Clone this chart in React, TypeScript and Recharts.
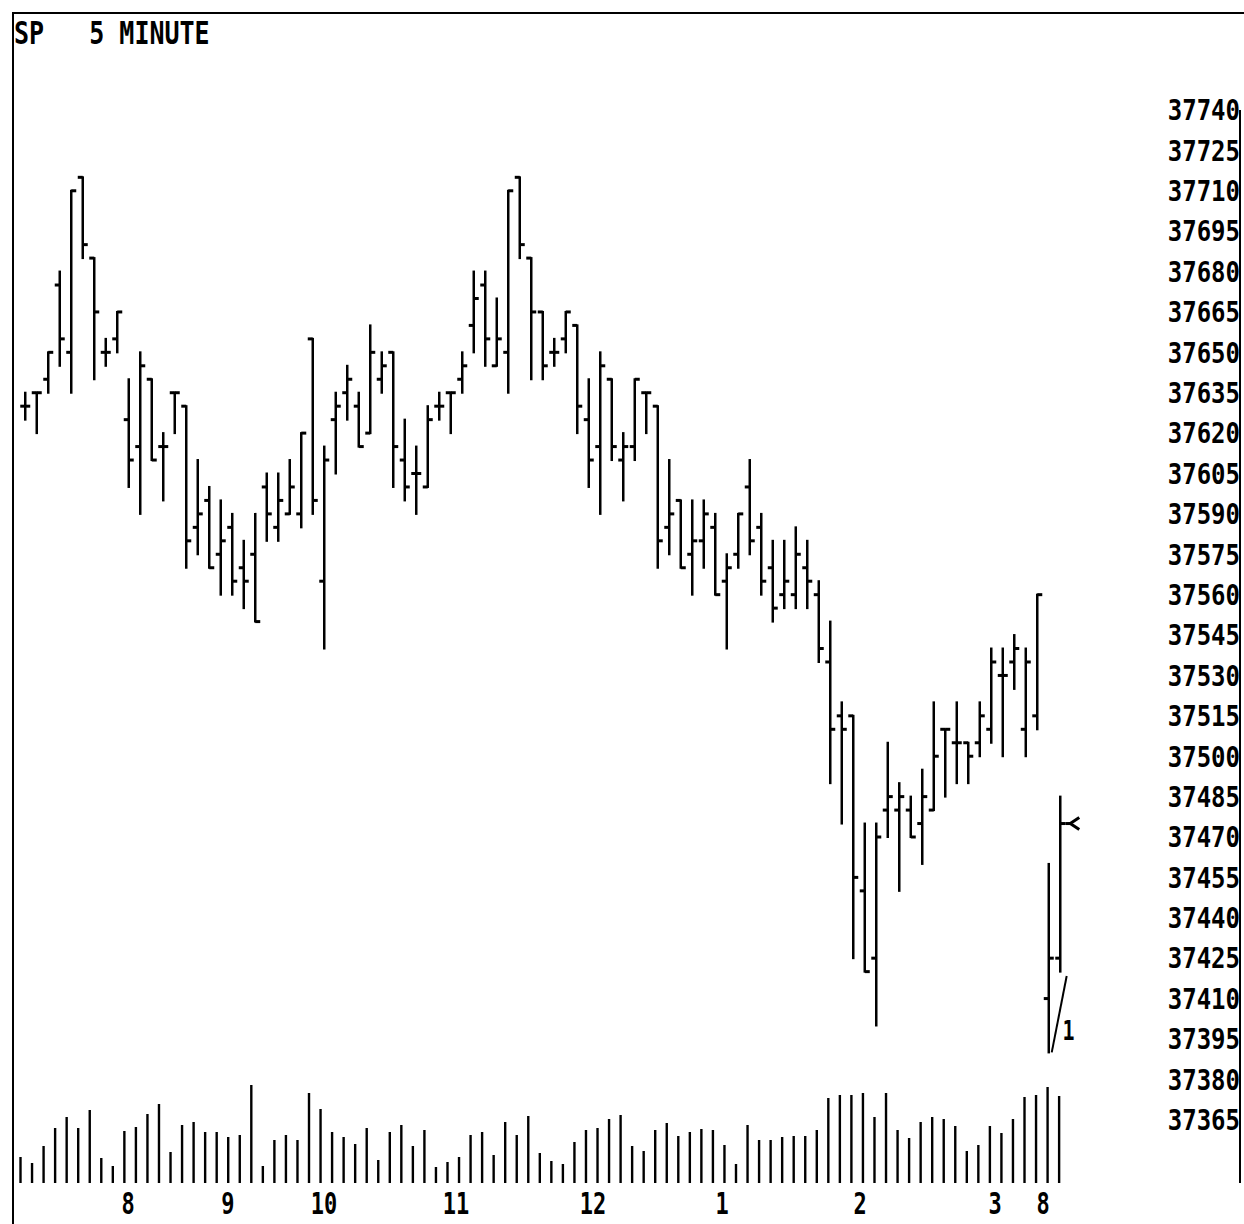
import React from 'react';
import { ComposedChart, Bar, XAxis, YAxis, ReferenceLine, ReferenceDot } from 'recharts';

const opens = [
  37630, 37635, 37640, 37675, 37650, 37715, 37685, 37650, 37655, 37625,
  37615, 37640, 37615, 37635, 37630, 37585, 37595, 37575, 37585, 37570,
  37575, 37600, 37585, 37590, 37590, 37655, 37565, 37625, 37635, 37630,
  37620, 37640, 37650, 37610, 37605, 37600, 37630, 37635, 37640, 37660,
  37675, 37645, 37650, 37715, 37685, 37665, 37650, 37655, 37660, 37625,
  37615, 37640, 37610, 37615, 37635, 37630, 37585, 37595, 37575, 37580,
  37585, 37565, 37575, 37600, 37585, 37570, 37560, 37560, 37570, 37560,
  37535, 37515, 37515, 37450, 37425, 37480, 37480, 37480, 37475, 37480,
  37510, 37505, 37505, 37505, 37510, 37530, 37535, 37510, 37515, 37410, 37425,
];
const highs = [
  37635, 37635, 37650, 37680, 37710, 37715, 37685, 37655, 37665, 37640,
  37650, 37640, 37620, 37635, 37630, 37610, 37600, 37595, 37590, 37580,
  37590, 37605, 37605, 37610, 37620, 37655, 37615, 37635, 37645, 37635,
  37660, 37650, 37650, 37625, 37615, 37630, 37635, 37635, 37650, 37680,
  37680, 37670, 37710, 37715, 37685, 37665, 37655, 37665, 37660, 37640,
  37650, 37640, 37620, 37640, 37635, 37630, 37610, 37595, 37595, 37595,
  37590, 37575, 37590, 37610, 37590, 37580, 37580, 37585, 37580, 37565,
  37550, 37520, 37515, 37475, 37475, 37505, 37490, 37485, 37495, 37520,
  37510, 37520, 37505, 37520, 37540, 37540, 37545, 37540, 37560, 37460, 37485,
];
const lows = [
  37625, 37620, 37635, 37645, 37635, 37685, 37640, 37645, 37650, 37600,
  37590, 37610, 37595, 37620, 37570, 37575, 37570, 37560, 37560, 37555,
  37550, 37580, 37580, 37590, 37585, 37590, 37540, 37605, 37625, 37615,
  37620, 37635, 37600, 37595, 37590, 37600, 37625, 37620, 37635, 37650,
  37645, 37645, 37635, 37685, 37640, 37640, 37645, 37650, 37620, 37600,
  37590, 37610, 37595, 37610, 37620, 37570, 37575, 37570, 37560, 37570,
  37560, 37540, 37570, 37575, 37560, 37550, 37555, 37555, 37555, 37535,
  37490, 37475, 37425, 37420, 37400, 37470, 37450, 37470, 37460, 37480,
  37485, 37490, 37490, 37500, 37505, 37500, 37525, 37500, 37510, 37390, 37420,
];
const closes = [
  37630, 37635, 37650, 37655, 37710, 37690, 37665, 37650, 37665, 37610,
  37645, 37610, 37615, 37635, 37580, 37590, 37570, 37580, 37565, 37565,
  37550, 37590, 37595, 37600, 37620, 37595, 37610, 37630, 37640, 37615,
  37650, 37645, 37615, 37600, 37605, 37625, 37630, 37635, 37645, 37670,
  37655, 37655, 37710, 37690, 37665, 37645, 37650, 37665, 37630, 37610,
  37645, 37615, 37615, 37640, 37635, 37580, 37590, 37570, 37580, 37590,
  37560, 37570, 37590, 37580, 37565, 37555, 37565, 37575, 37565, 37540,
  37510, 37510, 37455, 37420, 37470, 37485, 37485, 37470, 37485, 37500,
  37510, 37505, 37500, 37515, 37535, 37530, 37540, 37535, 37560, 37425, 37475,
];
const volumes = [
  26, 20, 37, 55, 66, 55, 73, 25, 17, 52,
  56, 69, 79, 31, 58, 61, 51, 51, 46, 48,
  98, 17, 43, 48, 43, 90, 74, 51, 46, 39,
  55, 23, 51, 58, 37, 53, 16, 21, 26, 48,
  51, 28, 61, 48, 67, 30, 22, 19, 41, 53,
  55, 64, 68, 37, 32, 53, 60, 47, 51, 54,
  53, 38, 19, 58, 43, 43, 46, 47, 47, 53,
  85, 88, 88, 90, 66, 90, 53, 45, 61, 66,
  64, 57, 32, 38, 57, 50, 64, 86, 88, 96, 87,
];
const hourTickPos = [8.96, 17.65, 26.0, 37.48, 49.39, 60.61, 72.61, 84.35, 88.52];
const hourTickLabels = ['8', '9', '10', '11', '12', '1', '2', '3', '8'];
const priceTicks = [
  37365, 37380, 37395, 37410, 37425, 37440, 37455, 37470, 37485, 37500, 37515, 37530, 37545,
  37560, 37575, 37590, 37605, 37620, 37635, 37650, 37665, 37680, 37695, 37710, 37725, 37740,
];
const arrowBar = 90;
const slashSegment = [
  { x: 89.28, y: 37390 },
  { x: 90.58, y: 37418.4 },
];
const noteLabel = { x: 90.75, y: 37398, text: '1' };

const data = opens.map((o, i) => ({
  i,
  open: o,
  high: highs[i],
  low: lows[i],
  close: closes[i],
  range: [lows[i], highs[i]],
  vol: volumes[i],
}));

const FONT = '"DejaVu Sans Mono", "Liberation Mono", monospace';

const OhlcShape = (props: any) => {
  const { x, y, width, height, payload, index } = props;
  if (x == null || y == null) return null;
  const cx = x + width / 2;
  const top = Math.min(y, y + height);
  const h = Math.abs(height);
  const { high, low, open, close } = payload;
  const py = (p: number) => (high === low ? top : top + ((high - p) / (high - low)) * h);
  const yo = py(open);
  const yc = py(close);
  return (
    <g>
      <line x1={cx} x2={cx} y1={top - 1} y2={top + h + 1} stroke="#000" strokeWidth={2.5} />
      <line x1={cx - 5} x2={cx} y1={yo} y2={yo} stroke="#000" strokeWidth={3} />
      <line x1={cx} x2={cx + 5} y1={yc} y2={yc} stroke="#000" strokeWidth={3} />
      {index === arrowBar && (
        <g>
          <line x1={cx + 5} x2={cx + 10} y1={yc} y2={yc} stroke="#000" strokeWidth={3} />
          <path
            d={`M ${cx + 19} ${yc - 6} L ${cx + 10} ${yc} L ${cx + 19} ${yc + 6}`}
            stroke="#000"
            strokeWidth={3}
            fill="none"
          />
        </g>
      )}
    </g>
  );
};

const VolShape = (props: any) => {
  const { x, y, width, height } = props;
  if (x == null || y == null) return null;
  const cx = x + width / 2;
  const top = Math.min(y, y + height);
  const h = Math.abs(height);
  return <line x1={cx} x2={cx} y1={top} y2={top + h} stroke="#000" strokeWidth={2.4} />;
};

const PriceTick = (props: any) => {
  const { x, y, payload } = props;
  return (
    <g transform={`translate(${x - 8},${y}) scale(1,1.2)`}>
      <text
        x={0}
        y={0}
        textAnchor="end"
        dominantBaseline="central"
        fontFamily={FONT}
        fontWeight="bold"
        fontSize={24}
        fill="#000"
      >
        {payload.value}
      </text>
    </g>
  );
};

const HourTick = (props: any) => {
  const { x, y, payload } = props;
  const idx = hourTickPos.indexOf(payload.value);
  const label = idx >= 0 ? hourTickLabels[idx] : '';
  return (
    <g transform={`translate(${x},${y + 13}) scale(1,1.35)`}>
      <text
        x={0}
        y={0}
        textAnchor="middle"
        dominantBaseline="central"
        fontFamily={FONT}
        fontWeight="bold"
        fontSize={22}
        fill="#000"
      >
        {label}
      </text>
    </g>
  );
};

export default function App() {
  return (
    <div style={{ position: 'absolute', left: 0, top: 0, width: 1244, height: 1224, background: '#fff' }}>
      <div
        style={{
          position: 'absolute',
          left: 12,
          top: 12,
          width: 1232,
          height: 1212,
          borderTop: '2px solid #000',
          borderLeft: '2px solid #000',
          boxSizing: 'border-box',
        }}
      />
      <div
        style={{
          position: 'absolute',
          left: 14,
          top: 16,
          fontFamily: FONT,
          fontWeight: 'bold',
          fontSize: 25,
          lineHeight: '28px',
          whiteSpace: 'pre',
          transform: 'scale(1,1.25)',
          transformOrigin: 'left top',
          color: '#000',
        }}
      >
        {'SP   5 MINUTE'}
      </div>
      <ComposedChart
        width={1244}
        height={1224}
        data={data}
        margin={{ top: 110, right: 0, bottom: 11, left: 12 }}
        style={{ position: 'absolute', left: 0, top: 0 }}
      >
        <XAxis
          xAxisId="p"
          dataKey="i"
          type="number"
          domain={[-1.13, 105.65]}
          allowDataOverflow
          ticks={hourTickPos}
          interval={0}
          tick={<HourTick />}
          axisLine={false}
          tickLine={false}
          height={30}
        />
        <XAxis xAxisId="v" dataKey="i" type="number" domain={[-0.76, 105.65]} allowDataOverflow hide />
        <YAxis
          yAxisId="p"
          orientation="right"
          type="number"
          domain={[37341.5, 37740]}
          allowDataOverflow
          ticks={priceTicks}
          interval={0}
          tick={<PriceTick />}
          tickLine={false}
          axisLine={{ stroke: '#000', strokeWidth: 2 }}
          width={4}
        />
        <YAxis yAxisId="v" type="number" domain={[0, 1073]} allowDataOverflow hide />
        <Bar
          xAxisId="v"
          yAxisId="v"
          dataKey="vol"
          barSize={3}
          shape={<VolShape />}
          isAnimationActive={false}
        />
        <Bar
          xAxisId="p"
          yAxisId="p"
          dataKey="range"
          barSize={10}
          shape={<OhlcShape />}
          isAnimationActive={false}
        />
        <ReferenceLine
          xAxisId="p"
          yAxisId="p"
          segment={slashSegment}
          stroke="#000"
          strokeWidth={2}
          ifOverflow="visible"
        />
        <ReferenceDot
          xAxisId="p"
          yAxisId="p"
          x={noteLabel.x}
          y={noteLabel.y}
          r={0}
          ifOverflow="visible"
          shape={(p: any) => (
            <g transform={`translate(${p.cx},${p.cy}) scale(1,1.3)`}>
              <text
                x={0}
                y={0}
                textAnchor="middle"
                dominantBaseline="central"
                fontFamily={FONT}
                fontWeight="bold"
                fontSize={20}
                fill="#000"
              >
                {noteLabel.text}
              </text>
            </g>
          )}
        />
      </ComposedChart>
    </div>
  );
}
